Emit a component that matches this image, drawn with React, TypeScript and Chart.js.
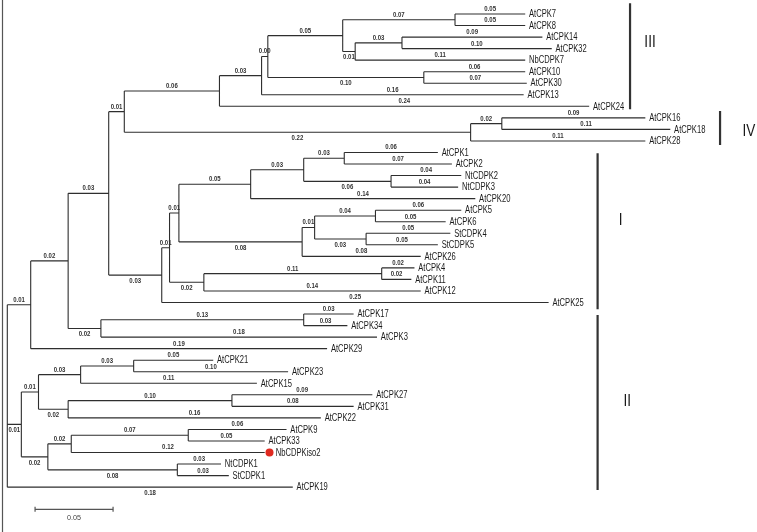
import React, { useEffect, useRef } from 'react';
import { Chart, registerables } from 'chart.js';

Chart.register(...registerables);

// ---- Tree data (pre-order; children appear in drawing order top -> bottom) ----
const nodeNames = [
  'R', 'A', 'B', 'C', 'D', 'E', 'F', 'G', 'H', 'I', 'AtCPK7', 'AtCPK8', 'J', 'K', 'AtCPK14', 'AtCPK32', 'NbCDPK7',
  'L', 'AtCPK10', 'AtCPK30', 'AtCPK13', 'AtCPK24', 'M', 'N', 'AtCPK16', 'AtCPK18', 'AtCPK28',
  'O', 'P', 'Q', 'T', 'V', 'W', 'AtCPK1', 'AtCPK2', 'X', 'NtCDPK2', 'NtCDPK3', 'AtCPK20',
  'U', 'Y', 'Z', 'AtCPK5', 'AtCPK6', 'AA', 'StCDPK4', 'StCDPK5', 'AtCPK26',
  'S', 'AB', 'AtCPK4', 'AtCPK11', 'AtCPK12', 'AtCPK25',
  'AC', 'AD', 'AtCPK17', 'AtCPK34', 'AtCPK3', 'AtCPK29',
  'AE', 'AF', 'AH', 'AJ', 'AtCPK21', 'AtCPK23', 'AtCPK15', 'AI', 'AK', 'AtCPK27', 'AtCPK31', 'AtCPK22',
  'AG', 'AL', 'AN', 'AtCPK9', 'AtCPK33', 'NbCDPKiso2', 'AM', 'NtCDPK1', 'StCDPK1', 'AtCPK19',
];
const parentNames = [
  '', 'R', 'A', 'B', 'C', 'D', 'E', 'F', 'G', 'H', 'I', 'I', 'H', 'J', 'K', 'K', 'J',
  'G', 'L', 'L', 'F', 'E', 'D', 'M', 'N', 'N', 'M',
  'C', 'O', 'P', 'Q', 'T', 'V', 'W', 'W', 'V', 'X', 'X', 'T',
  'Q', 'U', 'Y', 'Z', 'Z', 'Y', 'AA', 'AA', 'U',
  'P', 'S', 'AB', 'AB', 'S', 'O',
  'B', 'AC', 'AD', 'AD', 'AC', 'A',
  'R', 'AE', 'AF', 'AH', 'AJ', 'AJ', 'AH', 'AF', 'AI', 'AK', 'AK', 'AI',
  'AE', 'AG', 'AL', 'AN', 'AN', 'AL', 'AG', 'AM', 'AM', 'R',
];
const branchLengths = [
  0, 0.015, 0.024, 0.026, 0.010, 0.061, 0.027, 0.004, 0.048, 0.072, 0.045, 0.045, 0.008, 0.030, 0.090, 0.096, 0.109,
  0.100, 0.065, 0.066, 0.168, 0.237, 0.222, 0.020, 0.092, 0.108, 0.112,
  0.034, 0.005, 0.006, 0.046, 0.034, 0.026, 0.060, 0.069, 0.056, 0.045, 0.043, 0.144,
  0.079, 0.008, 0.039, 0.055, 0.045, 0.033, 0.054, 0.046, 0.076,
  0.022, 0.114, 0.021, 0.019, 0.139, 0.248,
  0.021, 0.130, 0.032, 0.028, 0.177, 0.190,
  0.009, 0.011, 0.027, 0.034, 0.051, 0.099, 0.113, 0.019, 0.105, 0.090, 0.078, 0.162,
  0.017, 0.015, 0.075, 0.063, 0.049, 0.124, 0.083, 0.028, 0.033, 0.183,
];
const branchLabels = [
  '', '0.01', '0.02', '0.03', '0.01', '0.06', '0.03', '0.00', '0.05', '0.07', '0.05', '0.05', '0.01', '0.03', '0.09', '0.10', '0.11',
  '0.10', '0.06', '0.07', '0.16', '0.24', '0.22', '0.02', '0.09', '0.11', '0.11',
  '0.03', '0.01', '0.01', '0.05', '0.03', '0.03', '0.06', '0.07', '0.06', '0.04', '0.04', '0.14',
  '0.08', '0.01', '0.04', '0.06', '0.05', '0.03', '0.05', '0.05', '0.08',
  '0.02', '0.11', '0.02', '0.02', '0.14', '0.25',
  '0.02', '0.13', '0.03', '0.03', '0.18', '0.19',
  '0.01', '0.01', '0.03', '0.03', '0.05', '0.10', '0.11', '0.02', '0.10', '0.09', '0.08', '0.16',
  '0.02', '0.02', '0.07', '0.06', '0.05', '0.12', '0.08', '0.03', '0.03', '0.18',
];
const labelBelow = [
  false, false, false, false, false, false, false, false, false, false, false, false, true, false, false, false, false,
  true, false, false, false, false, true, false, false, false, false,
  true, false, false, false, false, false, false, false, true, false, false, false,
  true, false, false, false, false, true, false, false, false,
  true, false, false, false, false, false,
  true, false, false, false, false, false,
  true, false, false, false, false, false, false, true, false, false, false, false,
  true, false, false, false, false, false, true, false, false, true,
];

const highlightedLeaf = 'NbCDPKiso2';

// ---- Clade brackets ----
const cladeNames = ['III', 'IV', 'I', 'II'];
const cladeBarX = [0.3992, 0.4569, 0.3784, 0.3784];
const cladeFrom = [-0.93, 8.41, 12.07, 26.08];
const cladeTo = [8.26, 11.35, 25.59, 41.25];
const cladeLabelX = [0.412, 0.4754, 0.3932, 0.3974];
const cladeLabelY = [2.45, 10.14, 17.91, 33.6];

// ---- Scale bar ----
const scaleBarStart = 0.0178;
const scaleBarLength = 0.05;
const scaleBarRow = 42.92;
const scaleBarLabel = '0.05';

// ---- Axis ranges (branch length units / leaf rows) ----
const xRange = [-0.00468, 0.48058];
const yRange = [-1.213, 44.887];

const FONT = '"Liberation Sans", Arial, sans-serif';

function layoutTree() {
  const n = nodeNames.length;
  const idx = new Map<string, number>(nodeNames.map((nm, i) => [nm, i]));
  const children: number[][] = nodeNames.map(() => []);
  const parent: number[] = new Array(n).fill(-1);
  let root = 0;
  parentNames.forEach((p, i) => {
    if (p === '') root = i;
    else {
      const pi = idx.get(p)!;
      parent[i] = pi;
      children[pi].push(i);
    }
  });
  const depth: number[] = new Array(n).fill(0);
  const row: number[] = new Array(n).fill(0);
  let leafCounter = 0;
  const visit = (i: number, d: number) => {
    depth[i] = d;
    const cs = children[i];
    if (cs.length === 0) {
      row[i] = leafCounter++;
      return;
    }
    cs.forEach((c) => visit(c, d + branchLengths[c]));
    row[i] = (row[cs[0]] + row[cs[cs.length - 1]]) / 2;
  };
  visit(root, 0);
  return { children, parent, depth, row, root };
}

function drawSquished(ctx: CanvasRenderingContext2D, text: string, x: number, y: number, sx: number, align: CanvasTextAlign) {
  ctx.save();
  ctx.translate(x, y);
  ctx.scale(sx, 1);
  ctx.textAlign = align;
  ctx.textBaseline = 'middle';
  ctx.fillText(text, 0, 0);
  ctx.restore();
}

export default function App() {
  const canvasRef = useRef<HTMLCanvasElement | null>(null);

  useEffect(() => {
    const canvas = canvasRef.current;
    if (!canvas) return;
    const { children, parent, depth, row } = layoutTree();

    const branchPts: any[] = [];
    nodeNames.forEach((_, i) => {
      if (parent[i] >= 0) {
        branchPts.push({ x: depth[parent[i]], y: row[i] }, { x: depth[i], y: row[i] }, { x: null, y: null });
      }
      const cs = children[i];
      if (cs.length > 0) {
        branchPts.push({ x: depth[i], y: row[cs[0]] }, { x: depth[i], y: row[cs[cs.length - 1]] }, { x: null, y: null });
      }
    });

    const cladePts: any[] = [];
    cladeNames.forEach((_, k) => {
      cladePts.push({ x: cladeBarX[k], y: cladeFrom[k] }, { x: cladeBarX[k], y: cladeTo[k] }, { x: null, y: null });
    });

    const scalePts = [
      { x: scaleBarStart, y: scaleBarRow },
      { x: scaleBarStart + scaleBarLength, y: scaleBarRow },
    ];

    const textPlugin = {
      id: 'treeText',
      beforeDatasetsDraw(chart: any) {
        const c = chart.ctx as CanvasRenderingContext2D;
        c.save();
        c.strokeStyle = '#555';
        c.lineWidth = 1.2;
        c.beginPath();
        c.moveTo(2.5, 0);
        c.lineTo(2.5, chart.height);
        c.stroke();
        c.restore();
      },
      afterDatasetsDraw(chart: any) {
        const c = chart.ctx as CanvasRenderingContext2D;
        const xs = chart.scales.x;
        const ys = chart.scales.y;
        c.save();
        // branch length labels
        c.fillStyle = '#333';
        c.font = `bold 7px ${FONT}`;
        nodeNames.forEach((_, i) => {
          if (parent[i] < 0) return;
          const x0 = xs.getPixelForValue(depth[parent[i]]);
          const x1 = xs.getPixelForValue(depth[i]);
          const y = ys.getPixelForValue(row[i]);
          drawSquished(c, branchLabels[i], (x0 + x1) / 2, y + (labelBelow[i] ? 6 : -5), 0.86, 'center');
        });
        // leaf names
        c.fillStyle = '#1a1a1a';
        c.font = `10px ${FONT}`;
        nodeNames.forEach((nm, i) => {
          if (children[i].length > 0) return;
          const x = xs.getPixelForValue(depth[i]);
          const y = ys.getPixelForValue(row[i]);
          if (nm === highlightedLeaf) {
            c.save();
            c.fillStyle = '#e0291f';
            c.beginPath();
            c.arc(x + 4.8, y, 4, 0, Math.PI * 2);
            c.fill();
            c.restore();
            drawSquished(c, nm, x + 11, y + 0.5, 0.76, 'left');
          } else {
            drawSquished(c, nm, x + 3.8, y + 0.5, 0.76, 'left');
          }
        });
        // clade labels
        c.fillStyle = '#1a1a1a';
        c.font = `17px ${FONT}`;
        cladeNames.forEach((nm, k) => {
          drawSquished(c, nm, xs.getPixelForValue(cladeLabelX[k]), ys.getPixelForValue(cladeLabelY[k]), 0.8, 'center');
        });
        // scale bar ticks + label
        const sx0 = xs.getPixelForValue(scaleBarStart);
        const sx1 = xs.getPixelForValue(scaleBarStart + scaleBarLength);
        const sy = ys.getPixelForValue(scaleBarRow);
        c.strokeStyle = '#555';
        c.lineWidth = 1.2;
        c.beginPath();
        c.moveTo(sx0, sy - 2.5);
        c.lineTo(sx0, sy + 2.5);
        c.moveTo(sx1, sy - 2.5);
        c.lineTo(sx1, sy + 2.5);
        c.stroke();
        c.fillStyle = '#444';
        c.font = `8px ${FONT}`;
        drawSquished(c, scaleBarLabel, (sx0 + sx1) / 2, sy + 8.5, 0.9, 'center');
        c.restore();
      },
    };

    const chart = new Chart(canvas, {
      type: 'line',
      data: {
        datasets: [
          { data: branchPts, borderColor: '#2e2e2e', borderWidth: 1.1, pointRadius: 0, spanGaps: false, fill: false, clip: false } as any,
          { data: cladePts, borderColor: '#333', borderWidth: 2.2, pointRadius: 0, spanGaps: false, fill: false, clip: false } as any,
          { data: scalePts, borderColor: '#555', borderWidth: 1.3, pointRadius: 0, fill: false, clip: false } as any,
        ],
      },
      options: {
        animation: false,
        responsive: false,
        devicePixelRatio: 1,
        events: [],
        layout: { padding: 0 },
        plugins: { legend: { display: false }, tooltip: { enabled: false } },
        elements: { line: { tension: 0 }, point: { radius: 0 } },
        scales: {
          x: { type: 'linear', display: false, min: xRange[0], max: xRange[1] },
          y: { type: 'linear', display: false, reverse: true, min: yRange[0], max: yRange[1] },
        },
      },
      plugins: [textPlugin],
    });
    return () => chart.destroy();
  }, []);

  return (
    <div style={{ position: 'absolute', left: 0, top: 0, width: 757, height: 532, background: '#fff' }}>
      <canvas ref={canvasRef} width={757} height={532} style={{ display: 'block' }} />
    </div>
  );
}
